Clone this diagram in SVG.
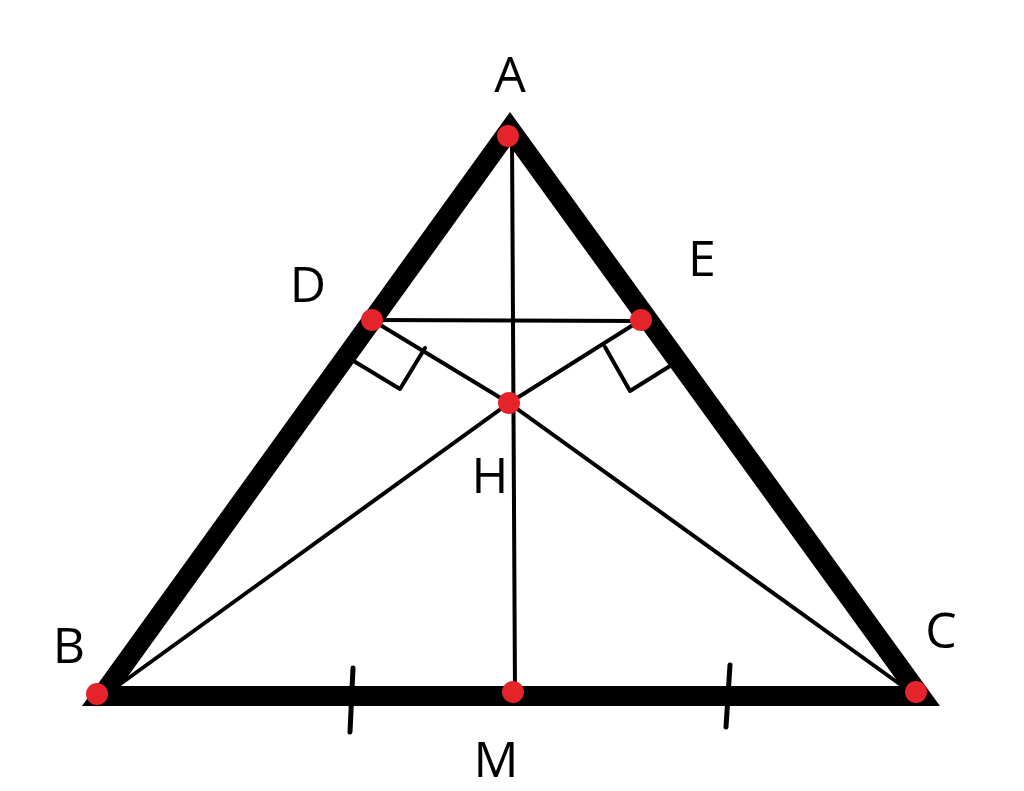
<svg xmlns="http://www.w3.org/2000/svg" width="1024" height="791" viewBox="0 0 1024 791">
<style>
.thin{fill:none;stroke:#000;stroke-width:4;stroke-linejoin:round;stroke-linecap:round}
.tick{fill:none;stroke:#000;stroke-width:5;stroke-linecap:round}
.pt{fill:#e5232b}
.lbl{font-family:"Open Sans","Noto Sans","Liberation Sans",sans-serif;font-size:50px;fill:#000;text-anchor:middle}
</style>
<rect width="1024" height="791" fill="#fff"/>
<g id="triangle">
<path d="M510,112 L940,706 L82,706 Z M510,146 L121,686 L901,686 Z" fill="#000" fill-rule="evenodd"/>
</g>
<g id="connectors">
<path class="thin" d="M512,136 L515,692"/>
<path class="thin" d="M112,690 L509,403 L641,320"/>
<path class="thin" d="M908,690 L509,403 L372,320"/>
<path class="thin" d="M372,320 L641,321"/>
<path class="thin" d="M352,360 L400,389 L425,348"/>
<path class="thin" d="M605,347 L630,391 L670,366"/>
<path class="tick" d="M353,668 L350,732"/>
<path class="tick" d="M730,665 L726,727"/>
</g>
<g id="A"><circle class="pt" cx="508" cy="136" r="11"/><text class="lbl" x="510" y="92">A</text></g>
<g id="D"><circle class="pt" cx="372" cy="320" r="11"/><text class="lbl" x="308" y="302">D</text></g>
<g id="E"><circle class="pt" cx="641" cy="320" r="11"/><text class="lbl" x="702" y="276">E</text></g>
<g id="H"><circle class="pt" cx="509" cy="403" r="11"/><text class="lbl" x="490" y="493">H</text></g>
<g id="B"><circle class="pt" cx="97" cy="694" r="11"/><text class="lbl" x="69" y="663">B</text></g>
<g id="M"><circle class="pt" cx="513" cy="692" r="11"/><text class="lbl" x="496" y="777">M</text></g>
<g id="C"><circle class="pt" cx="916" cy="692" r="11"/><text class="lbl" x="941" y="648">C</text></g>
</svg>
